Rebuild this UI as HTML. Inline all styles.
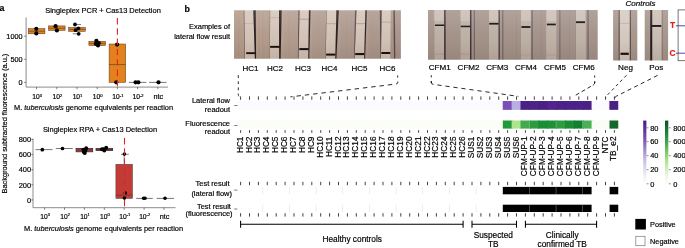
<!DOCTYPE html>
<html><head><meta charset="utf-8"><title>Figure</title>
<style>html,body{margin:0;padding:0;background:#fff}body{width:685px;height:248px;overflow:hidden}svg{display:block}</style></head>
<body>
<svg width="685" height="248" viewBox="0 0 685 248" font-family='"Liberation Sans", sans-serif'>
<rect width="685" height="248" fill="#fff"/>
<text x="-0.6" y="11.4" font-size="8.8" text-anchor="start" font-weight="bold" font-style="normal" fill="#000" stroke="#000" stroke-width="0.18" >a</text>
<text x="103" y="12.6" font-size="7.45" text-anchor="middle" font-weight="normal" font-style="normal" fill="#000" stroke="#000" stroke-width="0.18" >Singleplex PCR + Cas13 Detection</text>
<text transform="translate(7.3,123.6) rotate(-90)" font-size="7.43" text-anchor="middle" stroke="#000" stroke-width="0.18">Background subtracted fluorescence (a.u.)</text>
<path d="M26.1 17.5V87.1H168" fill="none" stroke="#6e6e6e" stroke-width="0.8"/>
<path d="M24.2 82.40H26.1" stroke="#333" stroke-width="0.6"/>
<text x="22.6" y="85.1" font-size="7.3" text-anchor="end" font-weight="normal" font-style="normal" fill="#000" stroke="#000" stroke-width="0.18" >0</text>
<path d="M24.2 59.30H26.1" stroke="#333" stroke-width="0.6"/>
<text x="22.6" y="62.0" font-size="7.3" text-anchor="end" font-weight="normal" font-style="normal" fill="#000" stroke="#000" stroke-width="0.18" >500</text>
<path d="M24.2 36.20H26.1" stroke="#333" stroke-width="0.6"/>
<text x="22.6" y="38.9" font-size="7.3" text-anchor="end" font-weight="normal" font-style="normal" fill="#000" stroke="#000" stroke-width="0.18" >1000</text>
<path d="M36.60 87.1V89.2" stroke="#333" stroke-width="0.6"/>
<text x="37.1" y="98.8" font-size="6.7" text-anchor="middle" font-weight="normal" font-style="normal" fill="#000" stroke="#000" stroke-width="0.18" >10<tspan dy="-2.2" font-size="4.1">3</tspan></text>
<path d="M56.80 87.1V89.2" stroke="#333" stroke-width="0.6"/>
<text x="57.3" y="98.8" font-size="6.7" text-anchor="middle" font-weight="normal" font-style="normal" fill="#000" stroke="#000" stroke-width="0.18" >10<tspan dy="-2.2" font-size="4.1">2</tspan></text>
<path d="M77.00 87.1V89.2" stroke="#333" stroke-width="0.6"/>
<text x="77.5" y="98.8" font-size="6.7" text-anchor="middle" font-weight="normal" font-style="normal" fill="#000" stroke="#000" stroke-width="0.18" >10<tspan dy="-2.2" font-size="4.1">1</tspan></text>
<path d="M97.20 87.1V89.2" stroke="#333" stroke-width="0.6"/>
<text x="97.7" y="98.8" font-size="6.7" text-anchor="middle" font-weight="normal" font-style="normal" fill="#000" stroke="#000" stroke-width="0.18" >10<tspan dy="-2.2" font-size="4.1">0</tspan></text>
<path d="M117.40 87.1V89.2" stroke="#333" stroke-width="0.6"/>
<text x="117.9" y="98.8" font-size="6.7" text-anchor="middle" font-weight="normal" font-style="normal" fill="#000" stroke="#000" stroke-width="0.18" >10<tspan dy="-2.2" font-size="4.1">-1</tspan></text>
<path d="M137.60 87.1V89.2" stroke="#333" stroke-width="0.6"/>
<text x="138.1" y="98.8" font-size="6.7" text-anchor="middle" font-weight="normal" font-style="normal" fill="#000" stroke="#000" stroke-width="0.18" >10<tspan dy="-2.2" font-size="4.1">-2</tspan></text>
<path d="M157.80 87.1V89.2" stroke="#333" stroke-width="0.6"/>
<text x="158.3" y="98.8" font-size="7.3" text-anchor="middle" font-weight="normal" font-style="normal" fill="#000" stroke="#000" stroke-width="0.18" >ntc</text>
<text x="93.5" y="110.3" font-size="7.4" text-anchor="middle" stroke="#000" stroke-width="0.18">M. <tspan font-style="italic">tuberculosis</tspan> genome equivalents per reaction</text>
<rect x="28.30" y="28.6" width="16.6" height="5.20" fill="#E5811C" stroke="#4a3a2a" stroke-width="0.5"/>
<path d="M28.30 31.2H44.90" stroke="#4a3a2a" stroke-width="0.6"/>
<circle cx="36.3" cy="28.8" r="2.1" fill="#000"/>
<circle cx="36.3" cy="33.4" r="2.1" fill="#000"/>
<rect x="48.50" y="25.9" width="16.6" height="4.50" fill="#E5811C" stroke="#4a3a2a" stroke-width="0.5"/>
<path d="M48.50 28.2H65.10" stroke="#4a3a2a" stroke-width="0.6"/>
<circle cx="55.6" cy="26.2" r="2.1" fill="#000"/>
<circle cx="56.9" cy="30.4" r="2.1" fill="#000"/>
<rect x="68.70" y="27.4" width="16.6" height="4.00" fill="#E5811C" stroke="#4a3a2a" stroke-width="0.5"/>
<path d="M68.70 29.4H85.30" stroke="#4a3a2a" stroke-width="0.6"/>
<path d="M75 24.5H81M72.7 33.8H78.7" stroke="#000" stroke-width="0.5"/>
<circle cx="75" cy="24.5" r="1.9" fill="#000"/>
<circle cx="78.4" cy="28.3" r="1.9" fill="#000"/>
<circle cx="75.6" cy="30.2" r="1.9" fill="#000"/>
<circle cx="78.7" cy="33.8" r="1.9" fill="#000"/>
<rect x="88.90" y="41.3" width="16.6" height="4.30" fill="#E5811C" stroke="#4a3a2a" stroke-width="0.5"/>
<path d="M88.90 43.4H105.50" stroke="#4a3a2a" stroke-width="0.6"/>
<circle cx="96.4" cy="40.8" r="2.1" fill="#000"/>
<circle cx="98.8" cy="43" r="2.1" fill="#000"/>
<circle cx="95.9" cy="43.8" r="2.1" fill="#000"/>
<circle cx="98" cy="45.4" r="2.1" fill="#000"/>
<rect x="109.10" y="44.0" width="16.6" height="38.40" fill="#E5811C" stroke="#4a3a2a" stroke-width="0.5"/>
<path d="M109.10 64.6H125.70" stroke="#4a3a2a" stroke-width="0.6"/>
<circle cx="117.1" cy="44.6" r="2.1" fill="#000"/>
<circle cx="116.2" cy="82.3" r="2.1" fill="#000"/>
<path d="M128.85 82.4H146.35" stroke="#555" stroke-width="0.8"/>
<circle cx="135.6" cy="82.3" r="2.1" fill="#000"/>
<circle cx="138.4" cy="82.3" r="2.1" fill="#000"/>
<path d="M149.05 82.4H166.55" stroke="#555" stroke-width="0.8"/>
<circle cx="158.5" cy="82.3" r="2.1" fill="#000"/>
<path d="M117.4 18V88.5" stroke="#D8262C" stroke-width="1.1" stroke-dasharray="6.4 3.9"/>
<text x="100.0" y="131.6" font-size="7.45" text-anchor="middle" font-weight="normal" font-style="normal" fill="#000" stroke="#000" stroke-width="0.18" >Singleplex RPA + Cas13 Detection</text>
<path d="M33.0 138.5V207.7H175.5" fill="none" stroke="#6e6e6e" stroke-width="0.8"/>
<path d="M31.3 199.90H33.0" stroke="#333" stroke-width="0.6"/>
<text x="31.1" y="202.6" font-size="7.45" text-anchor="end" font-weight="normal" font-style="normal" fill="#000" stroke="#000" stroke-width="0.18" >0</text>
<path d="M31.3 184.80H33.0" stroke="#333" stroke-width="0.6"/>
<text x="31.1" y="187.5" font-size="7.45" text-anchor="end" font-weight="normal" font-style="normal" fill="#000" stroke="#000" stroke-width="0.18" >200</text>
<path d="M31.3 169.70H33.0" stroke="#333" stroke-width="0.6"/>
<text x="31.1" y="172.4" font-size="7.45" text-anchor="end" font-weight="normal" font-style="normal" fill="#000" stroke="#000" stroke-width="0.18" >400</text>
<path d="M31.3 154.60H33.0" stroke="#333" stroke-width="0.6"/>
<text x="31.1" y="157.3" font-size="7.45" text-anchor="end" font-weight="normal" font-style="normal" fill="#000" stroke="#000" stroke-width="0.18" >600</text>
<path d="M31.3 139.50H33.0" stroke="#333" stroke-width="0.6"/>
<text x="31.1" y="142.2" font-size="7.45" text-anchor="end" font-weight="normal" font-style="normal" fill="#000" stroke="#000" stroke-width="0.18" >800</text>
<path d="M44.60 207.7V209.8" stroke="#333" stroke-width="0.6"/>
<text x="45.2" y="218.6" font-size="6.7" text-anchor="middle" font-weight="normal" font-style="normal" fill="#000" stroke="#000" stroke-width="0.18" >10<tspan dy="-2.2" font-size="4.1">3</tspan></text>
<path d="M64.50 207.7V209.8" stroke="#333" stroke-width="0.6"/>
<text x="65.1" y="218.6" font-size="6.7" text-anchor="middle" font-weight="normal" font-style="normal" fill="#000" stroke="#000" stroke-width="0.18" >10<tspan dy="-2.2" font-size="4.1">2</tspan></text>
<path d="M84.40 207.7V209.8" stroke="#333" stroke-width="0.6"/>
<text x="85.0" y="218.6" font-size="6.7" text-anchor="middle" font-weight="normal" font-style="normal" fill="#000" stroke="#000" stroke-width="0.18" >10<tspan dy="-2.2" font-size="4.1">1</tspan></text>
<path d="M104.30 207.7V209.8" stroke="#333" stroke-width="0.6"/>
<text x="104.9" y="218.6" font-size="6.7" text-anchor="middle" font-weight="normal" font-style="normal" fill="#000" stroke="#000" stroke-width="0.18" >10<tspan dy="-2.2" font-size="4.1">0</tspan></text>
<path d="M124.20 207.7V209.8" stroke="#333" stroke-width="0.6"/>
<text x="124.8" y="218.6" font-size="6.7" text-anchor="middle" font-weight="normal" font-style="normal" fill="#000" stroke="#000" stroke-width="0.18" >10<tspan dy="-2.2" font-size="4.1">-1</tspan></text>
<path d="M144.10 207.7V209.8" stroke="#333" stroke-width="0.6"/>
<text x="144.7" y="218.6" font-size="6.7" text-anchor="middle" font-weight="normal" font-style="normal" fill="#000" stroke="#000" stroke-width="0.18" >10<tspan dy="-2.2" font-size="4.1">-2</tspan></text>
<path d="M164.00 207.7V209.8" stroke="#333" stroke-width="0.6"/>
<text x="164.6" y="218.6" font-size="7.3" text-anchor="middle" font-weight="normal" font-style="normal" fill="#000" stroke="#000" stroke-width="0.18" >ntc</text>
<text x="103.5" y="231.2" font-size="7.4" text-anchor="middle" stroke="#000" stroke-width="0.18">M. <tspan font-style="italic">tuberculosis</tspan> genome equivalents per reaction</text>
<path d="M35.50 149.6H52.50" stroke="#555" stroke-width="0.8"/>
<circle cx="42.3" cy="149.7" r="1.85" fill="#000"/>
<path d="M55.80 148.5H72.80" stroke="#555" stroke-width="0.8"/>
<circle cx="62.5" cy="148.5" r="1.85" fill="#000"/>
<rect x="76.10" y="148.5" width="16.6" height="3.30" fill="#C23B37" stroke="#3a3030" stroke-width="0.8"/>
<path d="M76.10 150.0H92.70" stroke="#3a3030" stroke-width="0.6"/>
<circle cx="86.2" cy="148.2" r="1.95" fill="#000"/>
<circle cx="83.3" cy="149.8" r="1.95" fill="#000"/>
<circle cx="85.4" cy="150.6" r="1.95" fill="#000"/>
<circle cx="84" cy="152.2" r="1.95" fill="#000"/>
<circle cx="84.8" cy="153" r="1.95" fill="#000"/>
<rect x="96.00" y="148.4" width="16.6" height="2.20" fill="#C23B37" stroke="#3a3030" stroke-width="0.8"/>
<path d="M96.00 149.5H112.60" stroke="#3a3030" stroke-width="0.6"/>
<circle cx="106.2" cy="147.7" r="1.95" fill="#000"/>
<circle cx="103.6" cy="149.1" r="1.95" fill="#000"/>
<circle cx="102" cy="149.2" r="1.95" fill="#000"/>
<circle cx="104.3" cy="150.6" r="1.95" fill="#000"/>
<path d="M124.20 154.6V164" stroke="#333" stroke-width="0.6"/>
<rect x="115.90" y="164.3" width="16.6" height="34.10" fill="#C23B37" stroke="#4a3a2a" stroke-width="0.5"/>
<path d="M115.90 195.2H132.50" stroke="#4a3a2a" stroke-width="0.6"/>
<path d="M121 154.3H128.8" stroke="#000" stroke-width="0.5"/>
<circle cx="124.4" cy="154.1" r="1.8" fill="#000"/>
<circle cx="125.3" cy="193" r="1.8" fill="#000"/>
<circle cx="124.4" cy="198.1" r="1.8" fill="#000"/>
<path d="M136.20 198.4H152.80" stroke="#555" stroke-width="0.8"/>
<circle cx="143.6" cy="198.3" r="1.8" fill="#000"/>
<circle cx="145.0" cy="198.3" r="1.8" fill="#000"/>
<path d="M156.60 198.4H174.00" stroke="#555" stroke-width="0.8"/>
<circle cx="165" cy="198.3" r="1.8" fill="#000"/>
<path d="M124.5 138V209" stroke="#D8262C" stroke-width="1.1" stroke-dasharray="6.4 3.9"/>
<text x="184.4" y="11.8" font-size="8.8" text-anchor="start" font-weight="bold" font-style="normal" fill="#000" stroke="#000" stroke-width="0.18" >b</text>
<text x="230.0" y="29.2" font-size="7.45" text-anchor="end" font-weight="normal" font-style="normal" fill="#000" stroke="#000" stroke-width="0.18" >Examples of</text>
<text x="230.0" y="38.6" font-size="7.45" text-anchor="end" font-weight="normal" font-style="normal" fill="#000" stroke="#000" stroke-width="0.18" >lateral flow result</text>
<defs>
<linearGradient id="g1" x1="0" x2="1" y1="0" y2="0"><stop offset="0" stop-color="#b39b8a"/><stop offset="0.3" stop-color="#b49e8f"/><stop offset="0.5" stop-color="#b09c90"/><stop offset="1" stop-color="#aa968c"/></linearGradient>
<linearGradient id="g2" x1="0" x2="1" y1="0" y2="0"><stop offset="0" stop-color="#a5948a"/><stop offset="1" stop-color="#a4948c"/></linearGradient>
<linearGradient id="gt" x1="0" x2="0" y1="0" y2="1"><stop offset="0" stop-color="#fff" stop-opacity="0.15"/><stop offset="0.35" stop-color="#fff" stop-opacity="0.04"/><stop offset="0.6" stop-color="#3a2010" stop-opacity="0.02"/><stop offset="1" stop-color="#3a2010" stop-opacity="0.13"/></linearGradient>
<filter id="soft" x="-2%" y="-2%" width="104%" height="104%"><feGaussianBlur stdDeviation="0.35"/></filter>
<clipPath id="cpA"><rect x="234.0" y="10.3" width="166.9" height="48.5"/></clipPath>
<clipPath id="cpB"><rect x="428.0" y="10.0" width="169.7" height="49.7"/></clipPath>
<clipPath id="cpC"><rect x="613.1" y="10.0" width="24.2" height="50.6"/></clipPath>
<clipPath id="cpD"><rect x="644.7" y="10.0" width="23.4" height="50.6"/></clipPath>
</defs>
<g clip-path="url(#cpA)"><g filter="url(#soft)">
<rect x="230.00" y="8.00" width="175.00" height="54.00" fill="url(#g1)"/>
<rect x="238.00" y="8.00" width="0.70" height="54.00" fill="#8a7466" opacity="0.15"/>
<rect x="261.20" y="8.00" width="0.80" height="54.00" fill="#cdbcae" opacity="0.22"/>
<rect x="262.00" y="8.00" width="0.60" height="54.00" fill="#8a7466" opacity="0.14"/>
<rect x="288.00" y="8.00" width="0.70" height="54.00" fill="#8f7c72" opacity="0.12"/>
<rect x="318.00" y="8.00" width="0.70" height="54.00" fill="#8f7c72" opacity="0.1"/>
<rect x="346.30" y="8.00" width="0.70" height="54.00" fill="#8f7c72" opacity="0.1"/>
<rect x="372.50" y="8.00" width="0.70" height="54.00" fill="#8f7c72" opacity="0.1"/>
<rect x="256.40" y="8.00" width="1.60" height="54.00" fill="#cdbcae" opacity="0.18"/>
<rect x="282.00" y="8.00" width="1.60" height="54.00" fill="#cdbcae" opacity="0.18"/>
<rect x="310.40" y="8.00" width="1.60" height="54.00" fill="#cdbcae" opacity="0.18"/>
<rect x="338.40" y="8.00" width="1.60" height="54.00" fill="#cdbcae" opacity="0.18"/>
<rect x="366.40" y="8.00" width="1.60" height="54.00" fill="#cdbcae" opacity="0.18"/>
<polygon points="244.36,7.30 253.20,7.30 255.00,61.80 245.04,61.80" fill="#d4c5b8"/>
<rect x="244.56" y="23.15" width="9.17" height="0.90" fill="#a07878" opacity="0.3"/>
<polygon points="243.66,7.30 244.36,7.30 245.04,61.80 244.44,61.80" fill="#7a6060"/>
<polygon points="253.20,7.30 255.70,7.30 256.10,61.80 255.00,61.80" fill="#2a1e1f"/>
<rect x="246.20" y="52.20" width="9.10" height="1.90" fill="#171011"/>
<polygon points="270.22,7.30 278.99,7.30 279.21,61.80 269.78,61.80" fill="#d4c5b8"/>
<rect x="270.14" y="17.15" width="8.89" height="0.90" fill="#a07878" opacity="0.3"/>
<polygon points="269.72,7.30 270.22,7.30 269.78,61.80 269.28,61.80" fill="#8a7466"/>
<polygon points="278.99,7.30 281.79,7.30 280.51,61.80 279.21,61.80" fill="#2a1e1f"/>
<rect x="270.10" y="45.90" width="9.60" height="1.90" fill="#171011"/>
<polygon points="299.67,7.30 308.94,7.30 308.26,61.80 298.43,61.80" fill="#d4c5b8"/>
<rect x="299.40" y="18.75" width="9.39" height="0.90" fill="#a07878" opacity="0.7"/>
<polygon points="298.47,7.30 299.67,7.30 298.43,61.80 297.83,61.80" fill="#5a4448"/>
<polygon points="308.94,7.30 310.64,7.30 309.16,61.80 308.26,61.80" fill="#2a1e1f"/>
<rect x="299.30" y="48.10" width="9.40" height="2.00" fill="#171011"/>
<polygon points="326.76,7.30 336.47,7.30 335.23,61.80 325.64,61.80" fill="#d4c5b8"/>
<rect x="326.42" y="23.25" width="9.67" height="0.90" fill="#a07878" opacity="0.55"/>
<polygon points="326.26,7.30 326.76,7.30 325.64,61.80 325.14,61.80" fill="#7a665e"/>
<polygon points="336.47,7.30 338.97,7.30 336.23,61.80 335.23,61.80" fill="#2a1e1f"/>
<rect x="326.10" y="53.60" width="9.20" height="2.00" fill="#171011"/>
<polygon points="356.62,7.30 365.47,7.30 364.13,61.80 354.48,61.80" fill="#d4c5b8"/>
<rect x="355.98" y="23.25" width="9.09" height="0.90" fill="#a07878" opacity="0.7"/>
<polygon points="355.12,7.30 356.62,7.30 354.48,61.80 353.98,61.80" fill="#5a4448"/>
<polygon points="365.47,7.30 366.97,7.30 364.93,61.80 364.13,61.80" fill="#2a1e1f"/>
<rect x="355.20" y="53.00" width="9.10" height="2.10" fill="#171011"/>
<polygon points="381.75,7.30 390.72,7.30 390.28,61.80 380.85,61.80" fill="#d4c5b8"/>
<rect x="381.51" y="21.65" width="9.10" height="0.90" fill="#a07878" opacity="0.55"/>
<polygon points="379.75,7.30 381.75,7.30 380.85,61.80 380.55,61.80" fill="#4e3e42"/>
<rect x="381.30" y="52.00" width="9.00" height="2.00" fill="#171011"/>
<polygon points="393.30,7.00 394.90,7.00 395.30,62.00 394.10,62.00" fill="#4a3a3e" opacity="0.85"/>
<rect x="230.00" y="8.00" width="175.00" height="54.00" fill="url(#gt)"/>
</g></g>
<text x="250.4" y="70.6" font-size="8.0" text-anchor="middle" font-weight="normal" font-style="normal" fill="#000" stroke="#000" stroke-width="0.18" >HC1</text>
<text x="274.9" y="70.6" font-size="8.0" text-anchor="middle" font-weight="normal" font-style="normal" fill="#000" stroke="#000" stroke-width="0.18" >HC2</text>
<text x="303.0" y="70.6" font-size="8.0" text-anchor="middle" font-weight="normal" font-style="normal" fill="#000" stroke="#000" stroke-width="0.18" >HC3</text>
<text x="329.4" y="70.6" font-size="8.0" text-anchor="middle" font-weight="normal" font-style="normal" fill="#000" stroke="#000" stroke-width="0.18" >HC4</text>
<text x="359.4" y="70.6" font-size="8.0" text-anchor="middle" font-weight="normal" font-style="normal" fill="#000" stroke="#000" stroke-width="0.18" >HC5</text>
<text x="387.4" y="70.6" font-size="8.0" text-anchor="middle" font-weight="normal" font-style="normal" fill="#000" stroke="#000" stroke-width="0.18" >HC6</text>
<g clip-path="url(#cpB)"><g filter="url(#soft)">
<rect x="424.00" y="8.00" width="176.00" height="54.00" fill="url(#g2)"/>
<rect x="473.80" y="8.00" width="1.00" height="54.00" fill="#5e4f5c" opacity="0.85"/>
<rect x="502.30" y="8.00" width="1.00" height="54.00" fill="#5e4f5c" opacity="0.85"/>
<rect x="531.50" y="8.00" width="1.10" height="54.00" fill="#5e4f5c" opacity="0.9"/>
<rect x="559.40" y="8.00" width="1.00" height="54.00" fill="#5e4f5c" opacity="0.7"/>
<rect x="575.00" y="8.00" width="0.60" height="54.00" fill="#5e4f5c" opacity="0.7"/>
<rect x="587.50" y="8.00" width="1.10" height="54.00" fill="#5e4f5c" opacity="0.8"/>
<rect x="516.00" y="8.00" width="0.60" height="54.00" fill="#8f8078" opacity="0.4"/>
<rect x="541.00" y="8.00" width="0.60" height="54.00" fill="#8f8078" opacity="0.4"/>
<rect x="569.00" y="8.00" width="0.60" height="54.00" fill="#8f8078" opacity="0.4"/>
<rect x="434.50" y="8.00" width="9.70" height="54.00" fill="#bfb2a7"/>
<rect x="434.50" y="53.75" width="9.70" height="0.90" fill="#9a8a84" opacity="0.4"/>
<rect x="444.20" y="8.00" width="1.40" height="54.00" fill="#342a2e"/>
<rect x="435.00" y="24.50" width="9.40" height="1.50" fill="#171011"/>
<rect x="460.60" y="8.00" width="9.50" height="54.00" fill="#bfb2a7"/>
<rect x="460.60" y="53.75" width="9.50" height="0.90" fill="#9a8a84" opacity="0.4"/>
<rect x="470.10" y="8.00" width="1.30" height="54.00" fill="#342a2e"/>
<rect x="460.80" y="25.70" width="9.50" height="1.50" fill="#171011"/>
<rect x="489.00" y="8.00" width="9.60" height="54.00" fill="#bfb2a7"/>
<rect x="498.60" y="8.00" width="1.10" height="54.00" fill="#342a2e"/>
<rect x="489.20" y="22.90" width="9.40" height="1.70" fill="#171011"/>
<rect x="521.00" y="8.00" width="9.80" height="54.00" fill="#bfb2a7"/>
<rect x="521.00" y="54.55" width="9.80" height="0.90" fill="#9a8a84" opacity="0.3"/>
<rect x="521.40" y="26.10" width="9.00" height="1.80" fill="#171011"/>
<rect x="546.20" y="8.00" width="10.20" height="54.00" fill="#c1b5aa"/>
<rect x="546.20" y="54.55" width="10.20" height="0.90" fill="#9a8a84" opacity="0.3"/>
<rect x="546.90" y="23.60" width="8.90" height="1.70" fill="#171011"/>
<rect x="575.60" y="8.00" width="10.20" height="54.00" fill="#c1b5aa"/>
<rect x="576.00" y="21.30" width="9.00" height="1.80" fill="#171011"/>
<rect x="433.70" y="8.00" width="9.80" height="13.00" fill="#fff" opacity="0.16"/>
<rect x="460.40" y="8.00" width="9.20" height="13.00" fill="#fff" opacity="0.16"/>
<rect x="489.00" y="8.00" width="9.20" height="13.00" fill="#fff" opacity="0.16"/>
<rect x="521.00" y="8.00" width="9.80" height="13.00" fill="#fff" opacity="0.16"/>
<rect x="546.50" y="8.00" width="9.80" height="13.00" fill="#fff" opacity="0.16"/>
<rect x="575.90" y="8.00" width="9.30" height="13.00" fill="#fff" opacity="0.16"/>
<rect x="424.00" y="8.00" width="176.00" height="54.00" fill="url(#gt)"/>
</g></g>
<text x="439.7" y="70.0" font-size="8.1" text-anchor="middle" font-weight="normal" font-style="normal" fill="#000" stroke="#000" stroke-width="0.18" >CFM1</text>
<text x="468.6" y="70.0" font-size="8.1" text-anchor="middle" font-weight="normal" font-style="normal" fill="#000" stroke="#000" stroke-width="0.18" >CFM2</text>
<text x="497.3" y="70.0" font-size="8.1" text-anchor="middle" font-weight="normal" font-style="normal" fill="#000" stroke="#000" stroke-width="0.18" >CFM3</text>
<text x="526" y="70.0" font-size="8.1" text-anchor="middle" font-weight="normal" font-style="normal" fill="#000" stroke="#000" stroke-width="0.18" >CFM4</text>
<text x="554.9" y="70.0" font-size="8.1" text-anchor="middle" font-weight="normal" font-style="normal" fill="#000" stroke="#000" stroke-width="0.18" >CFM5</text>
<text x="583.7" y="70.0" font-size="8.1" text-anchor="middle" font-weight="normal" font-style="normal" fill="#000" stroke="#000" stroke-width="0.18" >CFM6</text>
<text x="640.5" y="5.6" font-size="8.0" text-anchor="middle" font-weight="normal" font-style="italic" fill="#000" stroke="#000" stroke-width="0.18" >Controls</text>
<g clip-path="url(#cpC)"><g filter="url(#soft)">
<rect x="610.00" y="8.00" width="30.00" height="54.00" fill="#a8988e"/>
<rect x="619.70" y="8.00" width="10.10" height="54.00" fill="#d6cbc2"/>
<rect x="619.70" y="22.85" width="10.10" height="0.90" fill="#a07878" opacity="0.35"/>
<rect x="618.60" y="8.00" width="1.10" height="54.00" fill="#5a4a48"/>
<rect x="629.80" y="8.00" width="1.10" height="54.00" fill="#5a4a48"/>
<rect x="620.50" y="52.70" width="8.30" height="2.20" fill="#171011"/>
<rect x="610.00" y="8.00" width="30.00" height="54.00" fill="url(#gt)"/>
</g></g>
<g clip-path="url(#cpD)"><g filter="url(#soft)">
<rect x="640.00" y="8.00" width="32.00" height="54.00" fill="#a7978d"/>
<rect x="662.30" y="8.00" width="0.70" height="54.00" fill="#6a5a5a" opacity="0.6"/>
<rect x="652.20" y="8.00" width="9.20" height="54.00" fill="#cbc0b6"/>
<rect x="650.20" y="8.00" width="2.00" height="54.00" fill="#261e20"/>
<rect x="651.40" y="25.00" width="9.90" height="1.90" fill="#171011"/>
<rect x="640.00" y="8.00" width="32.00" height="54.00" fill="url(#gt)"/>
</g></g>
<text x="625.5" y="69.8" font-size="8.1" text-anchor="middle" font-weight="normal" font-style="normal" fill="#000" stroke="#000" stroke-width="0.18" >Neg</text>
<text x="656.3" y="69.8" font-size="8.1" text-anchor="middle" font-weight="normal" font-style="normal" fill="#000" stroke="#000" stroke-width="0.18" >Pos</text>
<text x="672.5" y="28.1" font-size="8.4" text-anchor="middle" font-weight="bold" font-style="normal" fill="#E3231C" stroke="#E3231C" stroke-width="0.18" >T</text>
<text x="672.5" y="56.2" font-size="8.4" text-anchor="middle" font-weight="bold" font-style="normal" fill="#E3231C" stroke="#E3231C" stroke-width="0.18" >C</text>
<rect x="678.1" y="9.9" width="10" height="50.8" fill="#fff" stroke="#555" stroke-width="0.8"/>
<path d="M675.8 25.8H685M675.8 53.2H685" stroke="#3d3a96" stroke-width="0.9"/>
<path d="M238.3 75.2V94.5Q238.4 96.6 240.4 97.2" stroke="#111" stroke-width="0.9" fill="none" stroke-dasharray="2.8 3.3" stroke-dashoffset="0"/>
<path d="M397.7 75.4V82.2" stroke="#111" stroke-width="0.9" fill="none" stroke-dasharray="2.2 4.1" stroke-dashoffset="0"/>
<path d="M397.7 81.8V82.6Q397.7 83.8 396.2 84" stroke="#111" stroke-width="0.9" fill="none" stroke-dasharray="10 0" stroke-dashoffset="0"/>
<path d="M290.4 96.9L396.2 84" stroke="#111" stroke-width="0.9" fill="none" stroke-dasharray="4.4 3.96" stroke-dashoffset="2.2"/>
<path d="M431.3 75.2V83" stroke="#111" stroke-width="0.9" fill="none" stroke-dasharray="2.2 3.7" stroke-dashoffset="0"/>
<path d="M431.3 81V82.8Q431.4 84 433 84.3" stroke="#111" stroke-width="0.9" fill="none" stroke-dasharray="10 0" stroke-dashoffset="0"/>
<path d="M433 84.3L518.4 96.4" stroke="#111" stroke-width="0.9" fill="none" stroke-dasharray="4.2 3.9" stroke-dashoffset="3.7"/>
<path d="M594.7 75.4V83" stroke="#111" stroke-width="0.9" fill="none" stroke-dasharray="2.2 3.8" stroke-dashoffset="0"/>
<path d="M594.7 81.4V82.8Q594.7 84 593.6 84.7L592.8 85.2" stroke="#111" stroke-width="0.9" fill="none" stroke-dasharray="10 0" stroke-dashoffset="0"/>
<path d="M592.8 85.2L575.4 95.4" stroke="#111" stroke-width="0.9" fill="none" stroke-dasharray="3.9 2.9" stroke-dashoffset="-2.2"/>
<path d="M626.4 75.4L607.2 95.2Q606.2 96.4 606.1 97.6" stroke="#111" stroke-width="0.9" fill="none" stroke-dasharray="3 3" stroke-dashoffset="0"/>
<path d="M657.6 75.4L616.4 96.2Q615 96.9 614.8 97.8" stroke="#111" stroke-width="0.9" fill="none" stroke-dasharray="4 3.4" stroke-dashoffset="0"/>
<rect x="237.4" y="101.0" width="380.85" height="8.85" fill="#fbfafe"/>
<rect x="237.4" y="120.5" width="380.85" height="8.10" fill="#fbfdf7"/>
<rect x="502.73" y="101.0" width="9.886" height="8.85" fill="#7B4DB5"/>
<rect x="511.62" y="101.0" width="9.886" height="8.85" fill="#B9AEE0"/>
<rect x="520.50" y="101.0" width="9.886" height="8.85" fill="#4A2285"/>
<rect x="529.39" y="101.0" width="9.886" height="8.85" fill="#4E2389"/>
<rect x="538.27" y="101.0" width="9.886" height="8.85" fill="#482183"/>
<rect x="547.16" y="101.0" width="9.886" height="8.85" fill="#52238F"/>
<rect x="556.05" y="101.0" width="9.886" height="8.85" fill="#4C2288"/>
<rect x="564.93" y="101.0" width="9.886" height="8.85" fill="#4B2287"/>
<rect x="573.82" y="101.0" width="9.886" height="8.85" fill="#4C2288"/>
<rect x="582.70" y="101.0" width="9.886" height="8.85" fill="#482183"/>
<rect x="591.59" y="101.0" width="9.886" height="8.85" fill="#fbfaff"/>
<rect x="600.48" y="101.0" width="9.886" height="8.85" fill="#fbfaff"/>
<rect x="609.36" y="101.0" width="8.886" height="8.85" fill="#4A2285"/>
<rect x="502.73" y="120.5" width="9.886" height="8.10" fill="#239A3A"/>
<rect x="511.62" y="120.5" width="9.886" height="8.10" fill="#ACE68A"/>
<rect x="520.50" y="120.5" width="9.886" height="8.10" fill="#43A94F"/>
<rect x="529.39" y="120.5" width="9.886" height="8.10" fill="#2C9C3F"/>
<rect x="538.27" y="120.5" width="9.886" height="8.10" fill="#1A8E36"/>
<rect x="547.16" y="120.5" width="9.886" height="8.10" fill="#1D9038"/>
<rect x="556.05" y="120.5" width="9.886" height="8.10" fill="#2E9C3E"/>
<rect x="564.93" y="120.5" width="9.886" height="8.10" fill="#1B8B35"/>
<rect x="573.82" y="120.5" width="9.886" height="8.10" fill="#118030"/>
<rect x="582.70" y="120.5" width="9.886" height="8.10" fill="#49B053"/>
<rect x="591.59" y="120.5" width="9.886" height="8.10" fill="#fafdf6"/>
<rect x="600.48" y="120.5" width="9.886" height="8.10" fill="#fafdf6"/>
<rect x="609.36" y="120.5" width="8.886" height="8.10" fill="#14682B"/>
<rect x="262.61" y="120.5" width="0.4" height="8.10" fill="#fff" opacity="0.6"/>
<rect x="289.27" y="120.5" width="0.4" height="8.10" fill="#fff" opacity="0.6"/>
<rect x="315.92" y="120.5" width="0.4" height="8.10" fill="#fff" opacity="0.6"/>
<rect x="342.58" y="120.5" width="0.4" height="8.10" fill="#fff" opacity="0.6"/>
<rect x="369.24" y="120.5" width="0.4" height="8.10" fill="#fff" opacity="0.6"/>
<rect x="395.90" y="120.5" width="0.4" height="8.10" fill="#fff" opacity="0.6"/>
<rect x="422.56" y="120.5" width="0.4" height="8.10" fill="#fff" opacity="0.6"/>
<rect x="449.21" y="120.5" width="0.4" height="8.10" fill="#fff" opacity="0.6"/>
<rect x="475.87" y="120.5" width="0.4" height="8.10" fill="#fff" opacity="0.6"/>
<rect x="502.53" y="120.5" width="0.4" height="8.10" fill="#fff" opacity="0.6"/>
<rect x="529.19" y="120.5" width="0.4" height="8.10" fill="#fff" opacity="0.6"/>
<rect x="555.85" y="120.5" width="0.4" height="8.10" fill="#fff" opacity="0.6"/>
<rect x="582.50" y="120.5" width="0.4" height="8.10" fill="#fff" opacity="0.6"/>
<rect x="609.16" y="120.5" width="0.4" height="8.10" fill="#fff" opacity="0.6"/>
<path d="M240.60 96.4V99.8M240.60 130.2V132.8M240.60 181.8V185.2M240.60 213.2V216.6M249.50 96.4V99.8M249.50 130.2V132.8M249.50 181.8V185.2M249.50 213.2V216.6M258.40 96.4V99.8M258.40 130.2V132.8M258.40 181.8V185.2M258.40 213.2V216.6M267.30 96.4V99.8M267.30 130.2V132.8M267.30 181.8V185.2M267.30 213.2V216.6M276.20 96.4V99.8M276.20 130.2V132.8M276.20 181.8V185.2M276.20 213.2V216.6M285.10 96.4V99.8M285.10 130.2V132.8M285.10 181.8V185.2M285.10 213.2V216.6M294.00 96.4V99.8M294.00 130.2V132.8M294.00 181.8V185.2M294.00 213.2V216.6M302.90 96.4V99.8M302.90 130.2V132.8M302.90 181.8V185.2M302.90 213.2V216.6M311.80 96.4V99.8M311.80 130.2V132.8M311.80 181.8V185.2M311.80 213.2V216.6M320.70 96.4V99.8M320.70 130.2V132.8M320.70 181.8V185.2M320.70 213.2V216.6M329.60 96.4V99.8M329.60 130.2V132.8M329.60 181.8V185.2M329.60 213.2V216.6M338.50 96.4V99.8M338.50 130.2V132.8M338.50 181.8V185.2M338.50 213.2V216.6M347.40 96.4V99.8M347.40 130.2V132.8M347.40 181.8V185.2M347.40 213.2V216.6M356.30 96.4V99.8M356.30 130.2V132.8M356.30 181.8V185.2M356.30 213.2V216.6M365.20 96.4V99.8M365.20 130.2V132.8M365.20 181.8V185.2M365.20 213.2V216.6M374.10 96.4V99.8M374.10 130.2V132.8M374.10 181.8V185.2M374.10 213.2V216.6M383.00 96.4V99.8M383.00 130.2V132.8M383.00 181.8V185.2M383.00 213.2V216.6M391.90 96.4V99.8M391.90 130.2V132.8M391.90 181.8V185.2M391.90 213.2V216.6M400.80 96.4V99.8M400.80 130.2V132.8M400.80 181.8V185.2M400.80 213.2V216.6M409.70 96.4V99.8M409.70 130.2V132.8M409.70 181.8V185.2M409.70 213.2V216.6M418.60 96.4V99.8M418.60 130.2V132.8M418.60 181.8V185.2M418.60 213.2V216.6M427.50 96.4V99.8M427.50 130.2V132.8M427.50 181.8V185.2M427.50 213.2V216.6M436.40 96.4V99.8M436.40 130.2V132.8M436.40 181.8V185.2M436.40 213.2V216.6M445.30 96.4V99.8M445.30 130.2V132.8M445.30 181.8V185.2M445.30 213.2V216.6M454.20 96.4V99.8M454.20 130.2V132.8M454.20 181.8V185.2M454.20 213.2V216.6M463.10 96.4V99.8M463.10 130.2V132.8M463.10 181.8V185.2M463.10 213.2V216.6M472.00 96.4V99.8M472.00 130.2V132.8M472.00 181.8V185.2M472.00 213.2V216.6M480.90 96.4V99.8M480.90 130.2V132.8M480.90 181.8V185.2M480.90 213.2V216.6M489.80 96.4V99.8M489.80 130.2V132.8M489.80 181.8V185.2M489.80 213.2V216.6M498.70 96.4V99.8M498.70 130.2V132.8M498.70 181.8V185.2M498.70 213.2V216.6M507.60 96.4V99.8M507.60 130.2V132.8M507.60 181.8V185.2M507.60 213.2V216.6M516.50 96.4V99.8M516.50 130.2V132.8M516.50 181.8V185.2M516.50 213.2V216.6M525.40 96.4V99.8M525.40 130.2V132.8M525.40 181.8V185.2M525.40 213.2V216.6M534.30 96.4V99.8M534.30 130.2V132.8M534.30 181.8V185.2M534.30 213.2V216.6M543.20 96.4V99.8M543.20 130.2V132.8M543.20 181.8V185.2M543.20 213.2V216.6M552.10 96.4V99.8M552.10 130.2V132.8M552.10 181.8V185.2M552.10 213.2V216.6M561.00 96.4V99.8M561.00 130.2V132.8M561.00 181.8V185.2M561.00 213.2V216.6M569.90 96.4V99.8M569.90 130.2V132.8M569.90 181.8V185.2M569.90 213.2V216.6M578.80 96.4V99.8M578.80 130.2V132.8M578.80 181.8V185.2M578.80 213.2V216.6M587.70 96.4V99.8M587.70 130.2V132.8M587.70 181.8V185.2M587.70 213.2V216.6M596.60 96.4V99.8M596.60 130.2V132.8M596.60 181.8V185.2M596.60 213.2V216.6M605.50 96.4V99.8M605.50 130.2V132.8M605.50 181.8V185.2M605.50 213.2V216.6M614.40 96.4V99.8M614.40 130.2V132.8M614.40 181.8V185.2M614.40 213.2V216.6" stroke="#111" stroke-width="0.8"/>
<path d="M234.2 105.5H237.4M234.2 125.5H237.4M234.2 190.1H237.4M234.2 209H237.4" stroke="#222" stroke-width="0.6"/>
<text x="230.0" y="103.0" font-size="7.45" text-anchor="end" font-weight="normal" font-style="normal" fill="#000" stroke="#000" stroke-width="0.18" >Lateral flow</text>
<text x="230.0" y="112.0" font-size="7.45" text-anchor="end" font-weight="normal" font-style="normal" fill="#000" stroke="#000" stroke-width="0.18" >readout</text>
<text x="230.0" y="125.5" font-size="7.45" text-anchor="end" font-weight="normal" font-style="normal" fill="#000" stroke="#000" stroke-width="0.18" >Fluorescence</text>
<text x="230.0" y="133.8" font-size="7.45" text-anchor="end" font-weight="normal" font-style="normal" fill="#000" stroke="#000" stroke-width="0.18" >readout</text>
<text x="229.5" y="185.6" font-size="7.45" text-anchor="end" font-weight="normal" font-style="normal" fill="#000" stroke="#000" stroke-width="0.18" >Test result</text>
<text x="231.9" y="195.8" font-size="7.45" text-anchor="end" font-weight="normal" font-style="normal" fill="#000" stroke="#000" stroke-width="0.18" >(lateral flow)</text>
<text x="230.9" y="208.6" font-size="7.45" text-anchor="end" font-weight="normal" font-style="normal" fill="#000" stroke="#000" stroke-width="0.18" >Test result</text>
<text x="232.6" y="216.4" font-size="7.45" text-anchor="end" font-weight="normal" font-style="normal" fill="#000" stroke="#000" stroke-width="0.18" >(fluorescence)</text>
<text transform="translate(242.60,136.5) rotate(-90)" font-size="8.3" text-anchor="end" stroke="#000" stroke-width="0.2">HC1</text>
<text transform="translate(251.50,136.5) rotate(-90)" font-size="8.3" text-anchor="end" stroke="#000" stroke-width="0.2">HC2</text>
<text transform="translate(260.40,136.5) rotate(-90)" font-size="8.3" text-anchor="end" stroke="#000" stroke-width="0.2">HC3</text>
<text transform="translate(269.30,136.5) rotate(-90)" font-size="8.3" text-anchor="end" stroke="#000" stroke-width="0.2">HC4</text>
<text transform="translate(278.20,136.5) rotate(-90)" font-size="8.3" text-anchor="end" stroke="#000" stroke-width="0.2">HC5</text>
<text transform="translate(287.10,136.5) rotate(-90)" font-size="8.3" text-anchor="end" stroke="#000" stroke-width="0.2">HC6</text>
<text transform="translate(296.00,136.5) rotate(-90)" font-size="8.3" text-anchor="end" stroke="#000" stroke-width="0.2">HC7</text>
<text transform="translate(304.90,136.5) rotate(-90)" font-size="8.3" text-anchor="end" stroke="#000" stroke-width="0.2">HC8</text>
<text transform="translate(313.80,136.5) rotate(-90)" font-size="8.3" text-anchor="end" stroke="#000" stroke-width="0.2">HC9</text>
<text transform="translate(322.70,136.5) rotate(-90)" font-size="8.3" text-anchor="end" stroke="#000" stroke-width="0.2">HC10</text>
<text transform="translate(331.60,136.5) rotate(-90)" font-size="8.3" text-anchor="end" stroke="#000" stroke-width="0.2">HC11</text>
<text transform="translate(340.50,136.5) rotate(-90)" font-size="8.3" text-anchor="end" stroke="#000" stroke-width="0.2">HC12</text>
<text transform="translate(349.40,136.5) rotate(-90)" font-size="8.3" text-anchor="end" stroke="#000" stroke-width="0.2">HC13</text>
<text transform="translate(358.30,136.5) rotate(-90)" font-size="8.3" text-anchor="end" stroke="#000" stroke-width="0.2">HC14</text>
<text transform="translate(367.20,136.5) rotate(-90)" font-size="8.3" text-anchor="end" stroke="#000" stroke-width="0.2">HC15</text>
<text transform="translate(376.10,136.5) rotate(-90)" font-size="8.3" text-anchor="end" stroke="#000" stroke-width="0.2">HC16</text>
<text transform="translate(385.00,136.5) rotate(-90)" font-size="8.3" text-anchor="end" stroke="#000" stroke-width="0.2">HC17</text>
<text transform="translate(393.90,136.5) rotate(-90)" font-size="8.3" text-anchor="end" stroke="#000" stroke-width="0.2">HC18</text>
<text transform="translate(402.80,136.5) rotate(-90)" font-size="8.3" text-anchor="end" stroke="#000" stroke-width="0.2">HC19</text>
<text transform="translate(411.70,136.5) rotate(-90)" font-size="8.3" text-anchor="end" stroke="#000" stroke-width="0.2">HC20</text>
<text transform="translate(420.60,136.5) rotate(-90)" font-size="8.3" text-anchor="end" stroke="#000" stroke-width="0.2">HC21</text>
<text transform="translate(429.50,136.5) rotate(-90)" font-size="8.3" text-anchor="end" stroke="#000" stroke-width="0.2">HC22</text>
<text transform="translate(438.40,136.5) rotate(-90)" font-size="8.3" text-anchor="end" stroke="#000" stroke-width="0.2">HC23</text>
<text transform="translate(447.30,136.5) rotate(-90)" font-size="8.3" text-anchor="end" stroke="#000" stroke-width="0.2">HC24</text>
<text transform="translate(456.20,136.5) rotate(-90)" font-size="8.3" text-anchor="end" stroke="#000" stroke-width="0.2">HC25</text>
<text transform="translate(465.10,136.5) rotate(-90)" font-size="8.3" text-anchor="end" stroke="#000" stroke-width="0.2">HC26</text>
<text transform="translate(474.00,136.5) rotate(-90)" font-size="8.3" text-anchor="end" stroke="#000" stroke-width="0.2">SUS1</text>
<text transform="translate(482.90,136.5) rotate(-90)" font-size="8.3" text-anchor="end" stroke="#000" stroke-width="0.2">SUS2</text>
<text transform="translate(491.80,136.5) rotate(-90)" font-size="8.3" text-anchor="end" stroke="#000" stroke-width="0.2">SUS3</text>
<text transform="translate(500.70,136.5) rotate(-90)" font-size="8.3" text-anchor="end" stroke="#000" stroke-width="0.2">SUS4</text>
<text transform="translate(509.60,136.5) rotate(-90)" font-size="8.3" text-anchor="end" stroke="#000" stroke-width="0.2">SUS5</text>
<text transform="translate(518.50,136.5) rotate(-90)" font-size="8.3" text-anchor="end" stroke="#000" stroke-width="0.2">SUS6</text>
<text transform="translate(527.40,136.5) rotate(-90)" font-size="8.3" text-anchor="end" stroke="#000" stroke-width="0.2">CFM-UP-1</text>
<text transform="translate(536.30,136.5) rotate(-90)" font-size="8.3" text-anchor="end" stroke="#000" stroke-width="0.2">CFM-UP-2</text>
<text transform="translate(545.20,136.5) rotate(-90)" font-size="8.3" text-anchor="end" stroke="#000" stroke-width="0.2">CFM-UP-3</text>
<text transform="translate(554.10,136.5) rotate(-90)" font-size="8.3" text-anchor="end" stroke="#000" stroke-width="0.2">CFM-UP-4</text>
<text transform="translate(563.00,136.5) rotate(-90)" font-size="8.3" text-anchor="end" stroke="#000" stroke-width="0.2">CFM-UP-5</text>
<text transform="translate(571.90,136.5) rotate(-90)" font-size="8.3" text-anchor="end" stroke="#000" stroke-width="0.2">CFM-UP-6</text>
<text transform="translate(580.80,136.5) rotate(-90)" font-size="8.3" text-anchor="end" stroke="#000" stroke-width="0.2">CFM-UP-7</text>
<text transform="translate(589.70,136.5) rotate(-90)" font-size="8.3" text-anchor="end" stroke="#000" stroke-width="0.2">CFM-UP-8</text>
<text transform="translate(598.60,136.5) rotate(-90)" font-size="8.3" text-anchor="end" stroke="#000" stroke-width="0.2">CFM-UP-9</text>
<text transform="translate(607.50,136.5) rotate(-90)" font-size="8.3" text-anchor="end" stroke="#000" stroke-width="0.2">NTC</text>
<text transform="translate(616.40,136.5) rotate(-90)" font-size="8.3" text-anchor="end" stroke="#000" stroke-width="0.2">TB_e2</text>
<rect x="502.73" y="186.9" width="88.86" height="7.40" fill="#000"/>
<rect x="609.36" y="186.9" width="8.89" height="7.40" fill="#000"/>
<rect x="262.56" y="186.9" width="0.5" height="7.40" fill="#ddd"/>
<rect x="289.22" y="186.9" width="0.5" height="7.40" fill="#ddd"/>
<rect x="315.87" y="186.9" width="0.5" height="7.40" fill="#ddd"/>
<rect x="342.53" y="186.9" width="0.5" height="7.40" fill="#ddd"/>
<rect x="369.19" y="186.9" width="0.5" height="7.40" fill="#ddd"/>
<rect x="395.85" y="186.9" width="0.5" height="7.40" fill="#ddd"/>
<rect x="422.51" y="186.9" width="0.5" height="7.40" fill="#ddd"/>
<rect x="449.16" y="186.9" width="0.5" height="7.40" fill="#ddd"/>
<rect x="475.82" y="186.9" width="0.5" height="7.40" fill="#ddd"/>
<rect x="502.48" y="186.9" width="0.5" height="7.40" fill="#ddd"/>
<rect x="529.14" y="186.9" width="0.5" height="7.40" fill="#8a8a8a"/>
<rect x="555.80" y="186.9" width="0.5" height="7.40" fill="#8a8a8a"/>
<rect x="582.45" y="186.9" width="0.5" height="7.40" fill="#8a8a8a"/>
<rect x="609.11" y="186.9" width="0.5" height="7.40" fill="#ddd"/>
<rect x="502.73" y="204.7" width="88.86" height="7.30" fill="#000"/>
<rect x="609.36" y="204.7" width="8.89" height="7.30" fill="#000"/>
<rect x="262.56" y="204.7" width="0.5" height="7.30" fill="#ddd"/>
<rect x="289.22" y="204.7" width="0.5" height="7.30" fill="#ddd"/>
<rect x="315.87" y="204.7" width="0.5" height="7.30" fill="#ddd"/>
<rect x="342.53" y="204.7" width="0.5" height="7.30" fill="#ddd"/>
<rect x="369.19" y="204.7" width="0.5" height="7.30" fill="#ddd"/>
<rect x="395.85" y="204.7" width="0.5" height="7.30" fill="#ddd"/>
<rect x="422.51" y="204.7" width="0.5" height="7.30" fill="#ddd"/>
<rect x="449.16" y="204.7" width="0.5" height="7.30" fill="#ddd"/>
<rect x="475.82" y="204.7" width="0.5" height="7.30" fill="#ddd"/>
<rect x="502.48" y="204.7" width="0.5" height="7.30" fill="#ddd"/>
<rect x="529.14" y="204.7" width="0.5" height="7.30" fill="#8a8a8a"/>
<rect x="555.80" y="204.7" width="0.5" height="7.30" fill="#8a8a8a"/>
<rect x="582.45" y="204.7" width="0.5" height="7.30" fill="#8a8a8a"/>
<rect x="609.11" y="204.7" width="0.5" height="7.30" fill="#ddd"/>
<path d="M240.60 220.8V227.8M463.10 220.8V227.8M240.60 224.3H463.10" stroke="#000" stroke-width="1.05" fill="none"/>
<path d="M472.00 220.8V227.8M516.50 220.8V227.8M472.00 224.3H516.50" stroke="#000" stroke-width="1.05" fill="none"/>
<path d="M525.40 220.8V227.8M596.60 220.8V227.8M525.40 224.3H596.60" stroke="#000" stroke-width="1.05" fill="none"/>
<text x="352.2" y="242.0" font-size="8.3" text-anchor="middle" font-weight="normal" font-style="normal" fill="#000" stroke="#000" stroke-width="0.18" >Healthy controls</text>
<text x="493.3" y="238.0" font-size="8.3" text-anchor="middle" font-weight="normal" font-style="normal" fill="#000" stroke="#000" stroke-width="0.18" >Suspected</text>
<text x="493.3" y="247.2" font-size="8.3" text-anchor="middle" font-weight="normal" font-style="normal" fill="#000" stroke="#000" stroke-width="0.18" >TB</text>
<text x="562.2" y="238.0" font-size="8.3" text-anchor="middle" font-weight="normal" font-style="normal" fill="#000" stroke="#000" stroke-width="0.18" >Clinically</text>
<text x="562.2" y="247.2" font-size="8.3" text-anchor="middle" font-weight="normal" font-style="normal" fill="#000" stroke="#000" stroke-width="0.18" >confirmed TB</text>
<defs>
<linearGradient id="cp" x1="0" x2="0" y1="0" y2="1"><stop offset="0" stop-color="#4a1486"/><stop offset="0.3" stop-color="#7a55b5"/><stop offset="0.6" stop-color="#c3bbe2"/><stop offset="0.85" stop-color="#efedf7"/><stop offset="1" stop-color="#ffffff"/></linearGradient>
<linearGradient id="cg" x1="0" x2="0" y1="0" y2="1"><stop offset="0" stop-color="#0b4f25"/><stop offset="0.3" stop-color="#2f9e43"/><stop offset="0.6" stop-color="#a6e07f"/><stop offset="0.85" stop-color="#eaf7dc"/><stop offset="1" stop-color="#ffffff"/></linearGradient>
</defs>
<rect x="643.2" y="120.6" width="3.2" height="63.8" fill="url(#cp)"/>
<rect x="665.0" y="120.6" width="3.3" height="63.8" fill="url(#cg)"/>
<path d="M646.6 127.8H648.6M668.8 127.8H670.8" stroke="#222" stroke-width="0.5"/>
<text x="650.2" y="130.5" font-size="7.45" text-anchor="start" font-weight="normal" font-style="normal" fill="#000" stroke="#000" stroke-width="0.18" >80</text>
<text x="673.2" y="130.5" font-size="7.45" text-anchor="start" font-weight="normal" font-style="normal" fill="#000" stroke="#000" stroke-width="0.18" >8000</text>
<path d="M646.6 141.7H648.6M668.8 141.7H670.8" stroke="#222" stroke-width="0.5"/>
<text x="650.2" y="144.4" font-size="7.45" text-anchor="start" font-weight="normal" font-style="normal" fill="#000" stroke="#000" stroke-width="0.18" >60</text>
<text x="673.2" y="144.4" font-size="7.45" text-anchor="start" font-weight="normal" font-style="normal" fill="#000" stroke="#000" stroke-width="0.18" >6000</text>
<path d="M646.6 155.7H648.6M668.8 155.7H670.8" stroke="#222" stroke-width="0.5"/>
<text x="650.2" y="158.4" font-size="7.45" text-anchor="start" font-weight="normal" font-style="normal" fill="#000" stroke="#000" stroke-width="0.18" >40</text>
<text x="673.2" y="158.4" font-size="7.45" text-anchor="start" font-weight="normal" font-style="normal" fill="#000" stroke="#000" stroke-width="0.18" >4000</text>
<path d="M646.6 169.7H648.6M668.8 169.7H670.8" stroke="#222" stroke-width="0.5"/>
<text x="650.2" y="172.4" font-size="7.45" text-anchor="start" font-weight="normal" font-style="normal" fill="#000" stroke="#000" stroke-width="0.18" >20</text>
<text x="673.2" y="172.4" font-size="7.45" text-anchor="start" font-weight="normal" font-style="normal" fill="#000" stroke="#000" stroke-width="0.18" >2000</text>
<path d="M646.6 183.8H648.6M668.8 183.8H670.8" stroke="#222" stroke-width="0.5"/>
<text x="650.2" y="186.5" font-size="7.45" text-anchor="start" font-weight="normal" font-style="normal" fill="#000" stroke="#000" stroke-width="0.18" >0</text>
<text x="673.2" y="186.5" font-size="7.45" text-anchor="start" font-weight="normal" font-style="normal" fill="#000" stroke="#000" stroke-width="0.18" >0</text>
<rect x="635.3" y="218.9" width="10.6" height="10.6" fill="#000"/>
<rect x="635.8" y="236.3" width="9.2" height="9.4" fill="#fff" stroke="#777" stroke-width="0.7"/>
<text x="650.1" y="226.6" font-size="7.3" text-anchor="start" font-weight="normal" font-style="normal" fill="#000" stroke="#000" stroke-width="0.18" >Positive</text>
<text x="650.1" y="243.6" font-size="7.3" text-anchor="start" font-weight="normal" font-style="normal" fill="#000" stroke="#000" stroke-width="0.18" >Negative</text>
</svg>
</body></html>
